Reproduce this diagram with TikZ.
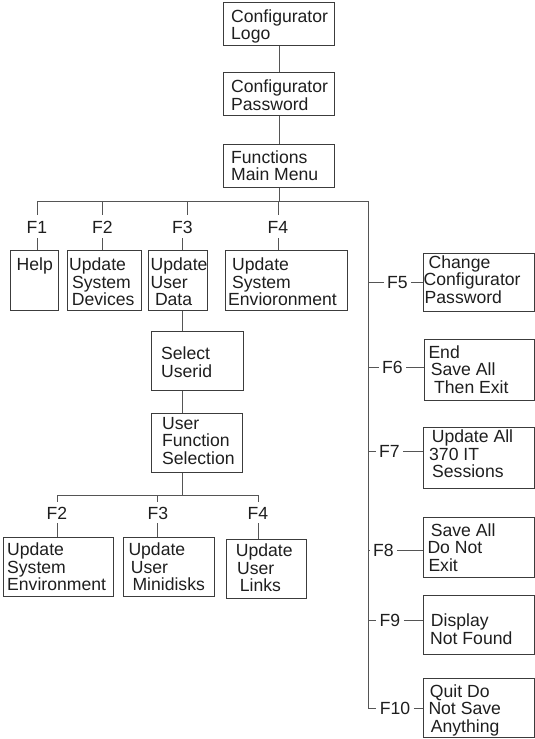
\documentclass[tikz,border=0pt]{standalone}
\usepackage{fontspec}
\setmainfont{Liberation Sans}
\usetikzlibrary{calc}
\definecolor{conn}{HTML}{555555}
\definecolor{bord}{HTML}{3C3C3C}
\definecolor{ink}{HTML}{1E1E1E}
\newcommand\ml[1]{\vtop{\baselineskip=17.6pt\lineskiplimit=-100pt\lineskip=0pt #1}}
\newcommand\rw[2][0]{\hbox{\kern#1pt #2}}
\tikzset{
  box/.style={draw=bord, line width=1.1pt, inner sep=0pt, anchor=north west},
  txt/.style={inner sep=0pt, anchor=base west, text=ink, font=\fontsize{17.6}{17.6}\selectfont},
  flab/.style={inner xsep=3.5pt, inner ysep=5pt, text height=12.6pt, text depth=0pt, text=ink, font=\fontsize{17.6}{17.6}\selectfont},
  glab/.style={flab, inner ysep=4pt},
  conn/.style={draw=conn, line width=1pt}
}
\begin{document}
\begin{tikzpicture}[x=1pt, y=-1pt]
\useasboundingbox (0,0) rectangle (535,739);
% ---------- boxes ----------
\node[box, minimum width=111pt, minimum height=43pt] (logo) at (223,2) {};
\node[box, minimum width=111pt, minimum height=43pt] (pass) at (223,72) {};
\node[box, minimum width=111pt, minimum height=43pt] (fmm) at (223,144) {};
\node[box, minimum width=48pt, minimum height=60pt] (help) at (10,250) {};
\node[box, minimum width=74pt, minimum height=60pt] (dev) at (67,250) {};
\node[box, minimum width=59pt, minimum height=60pt] (uud) at (148,250) {};
\node[box, minimum width=122pt, minimum height=60pt] (env4) at (225,250) {};
\node[box, minimum width=92pt, minimum height=59pt] (sel) at (151,331) {};
\node[box, minimum width=91pt, minimum height=59pt] (ufs) at (151,413) {};
\node[box, minimum width=110pt, minimum height=59pt] (env2) at (3,537) {};
\node[box, minimum width=91pt, minimum height=59pt] (mini) at (123,537) {};
\node[box, minimum width=80pt, minimum height=59pt] (links) at (226,539) {};
\node[box, minimum width=111pt, minimum height=58pt] (b5) at (423,253) {};
\node[box, minimum width=110pt, minimum height=61pt] (b6) at (424,339) {};
\node[box, minimum width=111pt, minimum height=61pt] (b7) at (423,427) {};
\node[box, minimum width=111pt, minimum height=60pt] (b8) at (423,517) {};
\node[box, minimum width=111pt, minimum height=59pt] (b9) at (423,595) {};
\node[box, minimum width=111pt, minimum height=59pt] (b10) at (423,678) {};
% ---------- texts ----------
\node[txt] (logo-t) at (231,22) {\ml{\rw{Configurator}\rw{Logo}}};
\node[txt] (pass-t) at (231,92.5) {\ml{\rw{Configurator}\rw{Password}}};
\node[txt] (fmm-t) at (231,163.2) {\ml{\rw{Functions}\rw{Main Menu}}};
\node[txt] (help-t) at (16.5,270.5) {\ml{\rw{Help}}};
\node[txt] (dev-t) at (69,270.5) {\ml{\rw{Update}\rw[3]{System}\rw[2.7]{Devices}}};
\node[txt] (uud-t) at (150.5,270.5) {\ml{\rw{Update}\rw{User}\rw[4.3]{Data}}};
\node[txt] (env4-t) at (228,270.5) {\ml{\rw[4]{Update}\rw[4]{System}\rw{Envioronment}}};
\node[txt] (sel-t) at (161,359.5) {\ml{\rw{Select}\rw{Userid}}};
\node[txt] (ufs-t) at (162,429) {\ml{\rw{User}\rw{Function}\rw{Selection}}};
\node[txt] (env2-t) at (7,555.5) {\ml{\rw{Update}\rw{System}\rw{Environment}}};
\node[txt] (mini-t) at (128.3,555.5) {\ml{\rw{Update}\rw[2.4]{User}\rw[4]{Minidisks}}};
\node[txt] (links-t) at (235.7,556.5) {\ml{\rw{Update}\rw[1.3]{User}\rw[4]{Links}}};
\node[txt] (b5-t) at (423.5,268) {\ml{\rw[5]{Change}\rw{Configurator}\rw[1]{Password}}};
\node[txt] (b6-t) at (428.3,358) {\ml{\rw{End}\rw[2.4]{Save All}\rw[5.7]{Then Exit}}};
\node[txt] (b7-t) at (429,442.5) {\ml{\rw[2.7]{Update All}\rw{370 IT}\rw[3]{Sessions}}};
\node[txt] (b8-t) at (427.3,536) {\ml{\rw[3.4]{Save All}\rw{Do Not}\rw[1]{Exit}}};
\node[txt] (b9-t) at (430,626.7) {\ml{\rw[0.7]{Display}\rw{Not Found}}};
\node[txt] (b10-t) at (428.3,697.3) {\ml{\rw[1.4]{Quit Do}\rw{Not Save}\rw[2.4]{Anything}}};
% ---------- labels ----------
\node[flab] (f1) at (37,226.7) {F1};
\node[flab] (f2) at (102.5,226.7) {F2};
\node[flab] (f3) at (182.5,226.7) {F3};
\node[flab] (f4) at (278,226.7) {F4};
\node[glab] (g2) at (57,512.7) {F2};
\node[glab] (g3) at (157.8,512.7) {F3};
\node[glab] (g4) at (258,512.7) {F4};
\node[flab] (f5) at (397.5,282.5) {F5};
\node[flab] (f6) at (392.5,367) {F6};
\node[flab] (f7) at (389.5,451) {F7};
\node[flab] (f8) at (383.5,550) {F8};
\node[flab] (f9) at (390,620) {F9};
\node[flab] (f10) at (395,708) {F10};
% ---------- coordinates ----------
\coordinate (bL) at (37,201);
\coordinate (bR) at (368,201);
\coordinate (j3) at (187,201);
\coordinate (c3) at (182,0);
\coordinate (b2L) at (57,495);
\coordinate (b2R) at (258,495);
\coordinate (v5) at (368,282.5);
\coordinate (v6) at (368,367);
\coordinate (v7) at (368,451);
\coordinate (v8) at (368,550);
\coordinate (v9) at (368,620);
\coordinate (vEnd) at (368,708);
% ---------- connectors ----------
\draw[conn] (logo.south) -- (pass.north);
\draw[conn] (pass.south) -- (fmm.north);
\draw[conn] (fmm.south) -- (fmm.south |- bL);
\draw[conn] (bL) -- (bR);
\draw[conn] (bL) -- (f1.north);
\draw[conn] (f2.north |- bL) -- (f2.north);
\draw[conn] (j3) -- (j3 |- f3.north);
\draw[conn] (f4.north |- bL) -- (f4.north);
\draw[conn] (f1.south) -- (f1.south |- help.north);
\draw[conn] (f2.south) -- (f2.south |- dev.north);
\draw[conn] (f3.south) -- (f3.south |- uud.north);
\draw[conn] (f4.south) -- (f4.south |- env4.north);
\draw[conn] (c3 |- uud.south) -- (c3 |- sel.north);
\draw[conn] (c3 |- sel.south) -- (c3 |- ufs.north);
\draw[conn] (c3 |- ufs.south) -- (c3 |- b2L);
\draw[conn] (b2L) -- (b2R);
\draw[conn] (b2L) -- (g2.north);
\draw[conn] (g3.north |- b2L) -- (g3.north);
\draw[conn] (b2R) -- (g4.north);
\draw[conn] (g2.south) -- (g2.south |- env2.north);
\draw[conn] (g3.south) -- (g3.south |- mini.north);
\draw[conn] (g4.south) -- (g4.south |- links.north);
\draw[conn] (bR) -- (vEnd) -- (f10.west);
\draw[conn] (v5) -- (f5.west);
\draw[conn] (v6) -- (f6.west);
\draw[conn] (v7) -- (f7.west);
\draw[conn] (v8) -- (f8.west);
\draw[conn] (v9) -- (f9.west);
\draw[conn] (f5.east) -- (f5.east -| b5.west);
\draw[conn] (f6.east) -- (f6.east -| b6.west);
\draw[conn] (f7.east) -- (f7.east -| b7.west);
\draw[conn] (f8.east) -- (f8.east -| b8.west);
\draw[conn] (f9.east) -- (f9.east -| b9.west);
\draw[conn] (f10.east) -- (f10.east -| b10.west);
\end{tikzpicture}
\end{document}
